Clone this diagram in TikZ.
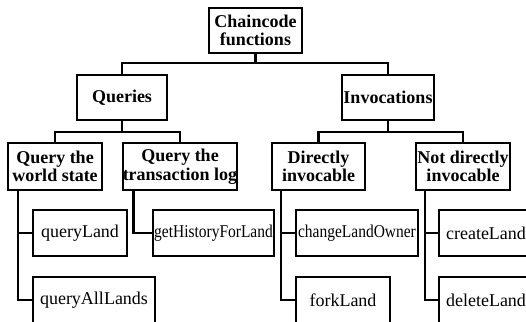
\documentclass[tikz,border=0pt]{standalone}
\usepackage{graphicx}
\usepackage{fontspec}
\setmainfont{Liberation Serif}
\usepackage{tikz}

\begin{document}
\begin{tikzpicture}[x=0.75pt,y=0.75pt,yscale=-1,xscale=1,
  box/.style={draw,line width=1.8pt,inner sep=0pt,align=center,
    font=\fontsize{13.5pt}{13.5pt}\selectfont},
  headbox/.style={box,font=\fontsize{13.5pt}{14pt}\selectfont\bfseries},
  leafbox/.style={box,minimum height=0.75*46pt},
  wd/.style={minimum width=0.75*#1pt},
  ht/.style={minimum height=0.75*#1pt},
  link/.style={line width=1.8pt}]
\useasboundingbox (0,0) rectangle (526,322);
\clip (0,0) rectangle (526,322);

% Top level
\node [headbox,wd=93,ht=45] (root) at (255.5,30.5) {Chaincode\\functions};

% Second level
\node [headbox,wd=90,ht=45] (queries) at (122,97.5) {Queries};
\node [headbox,wd=92,ht=45] (invoc) at (388,97.5) {Invocations};

% Third level
\node [headbox,wd=94,ht=47] (worldstate) at (55,166.5) {Query the\\world state};
\node [headbox,wd=112,ht=47] (txlog) at (180,166.5) {Query the\\transaction log};
\node [headbox,wd=93,ht=47] (direct) at (318.5,166.5) {Directly\\invocable};
\node [headbox,wd=94,ht=47] (notdirect) at (463,166.5) {Not directly\\invocable};

% Leaves
\node [leafbox,wd=94] (queryland) at (80,233) {queryLand};
\node [leafbox,wd=122] (queryall) at (94,300) {queryAllLands};
\node [leafbox,wd=121] (history) at (213.5,233) {\scalebox{0.86}[1]{getHistoryForLand}};
\node [leafbox,wd=122] (changeowner) at (357,233) {\scalebox{0.86}[1]{changeLandOwner}};
\node [leafbox,wd=94] (forkland) at (343,300) {forkLand};
\node [leafbox,wd=94] (createland) at (486,233) {createLand};
\node [leafbox,wd=94] (deleteland) at (486,300) {deleteLand};

% Elbow connectors between levels
\draw [link] (root.south) -- ++(0,9) -| (queries.north);
\draw [link] (root.south) -- ++(0,9) -| (invoc.north);
\draw [link] (queries.south) -- ++(0,11) -| (worldstate.north);
\draw [link] (queries.south) -- ++(0,11) -| (txlog.north);
\draw [link] (invoc.south) -- ++(0,11) -| (direct.north);
\draw [link] (invoc.south) -- ++(0,11) -| (notdirect.north);

% Side rails down to the leaves
\draw [link] (worldstate.south west) ++(11,0) |- (queryland.west);
\draw [link] (worldstate.south west) ++(11,0) |- (queryall.west);
\draw [link] (txlog.south west) ++(12,0) |- (history.west);
\draw [link] (direct.south west) ++(10,0) |- (changeowner.west);
\draw [link] (direct.south west) ++(10,0) |- (forkland.west);
\draw [link] (notdirect.south west) ++(10,0) |- (createland.west);
\draw [link] (notdirect.south west) ++(10,0) |- (deleteland.west);

\end{tikzpicture}
\end{document}
